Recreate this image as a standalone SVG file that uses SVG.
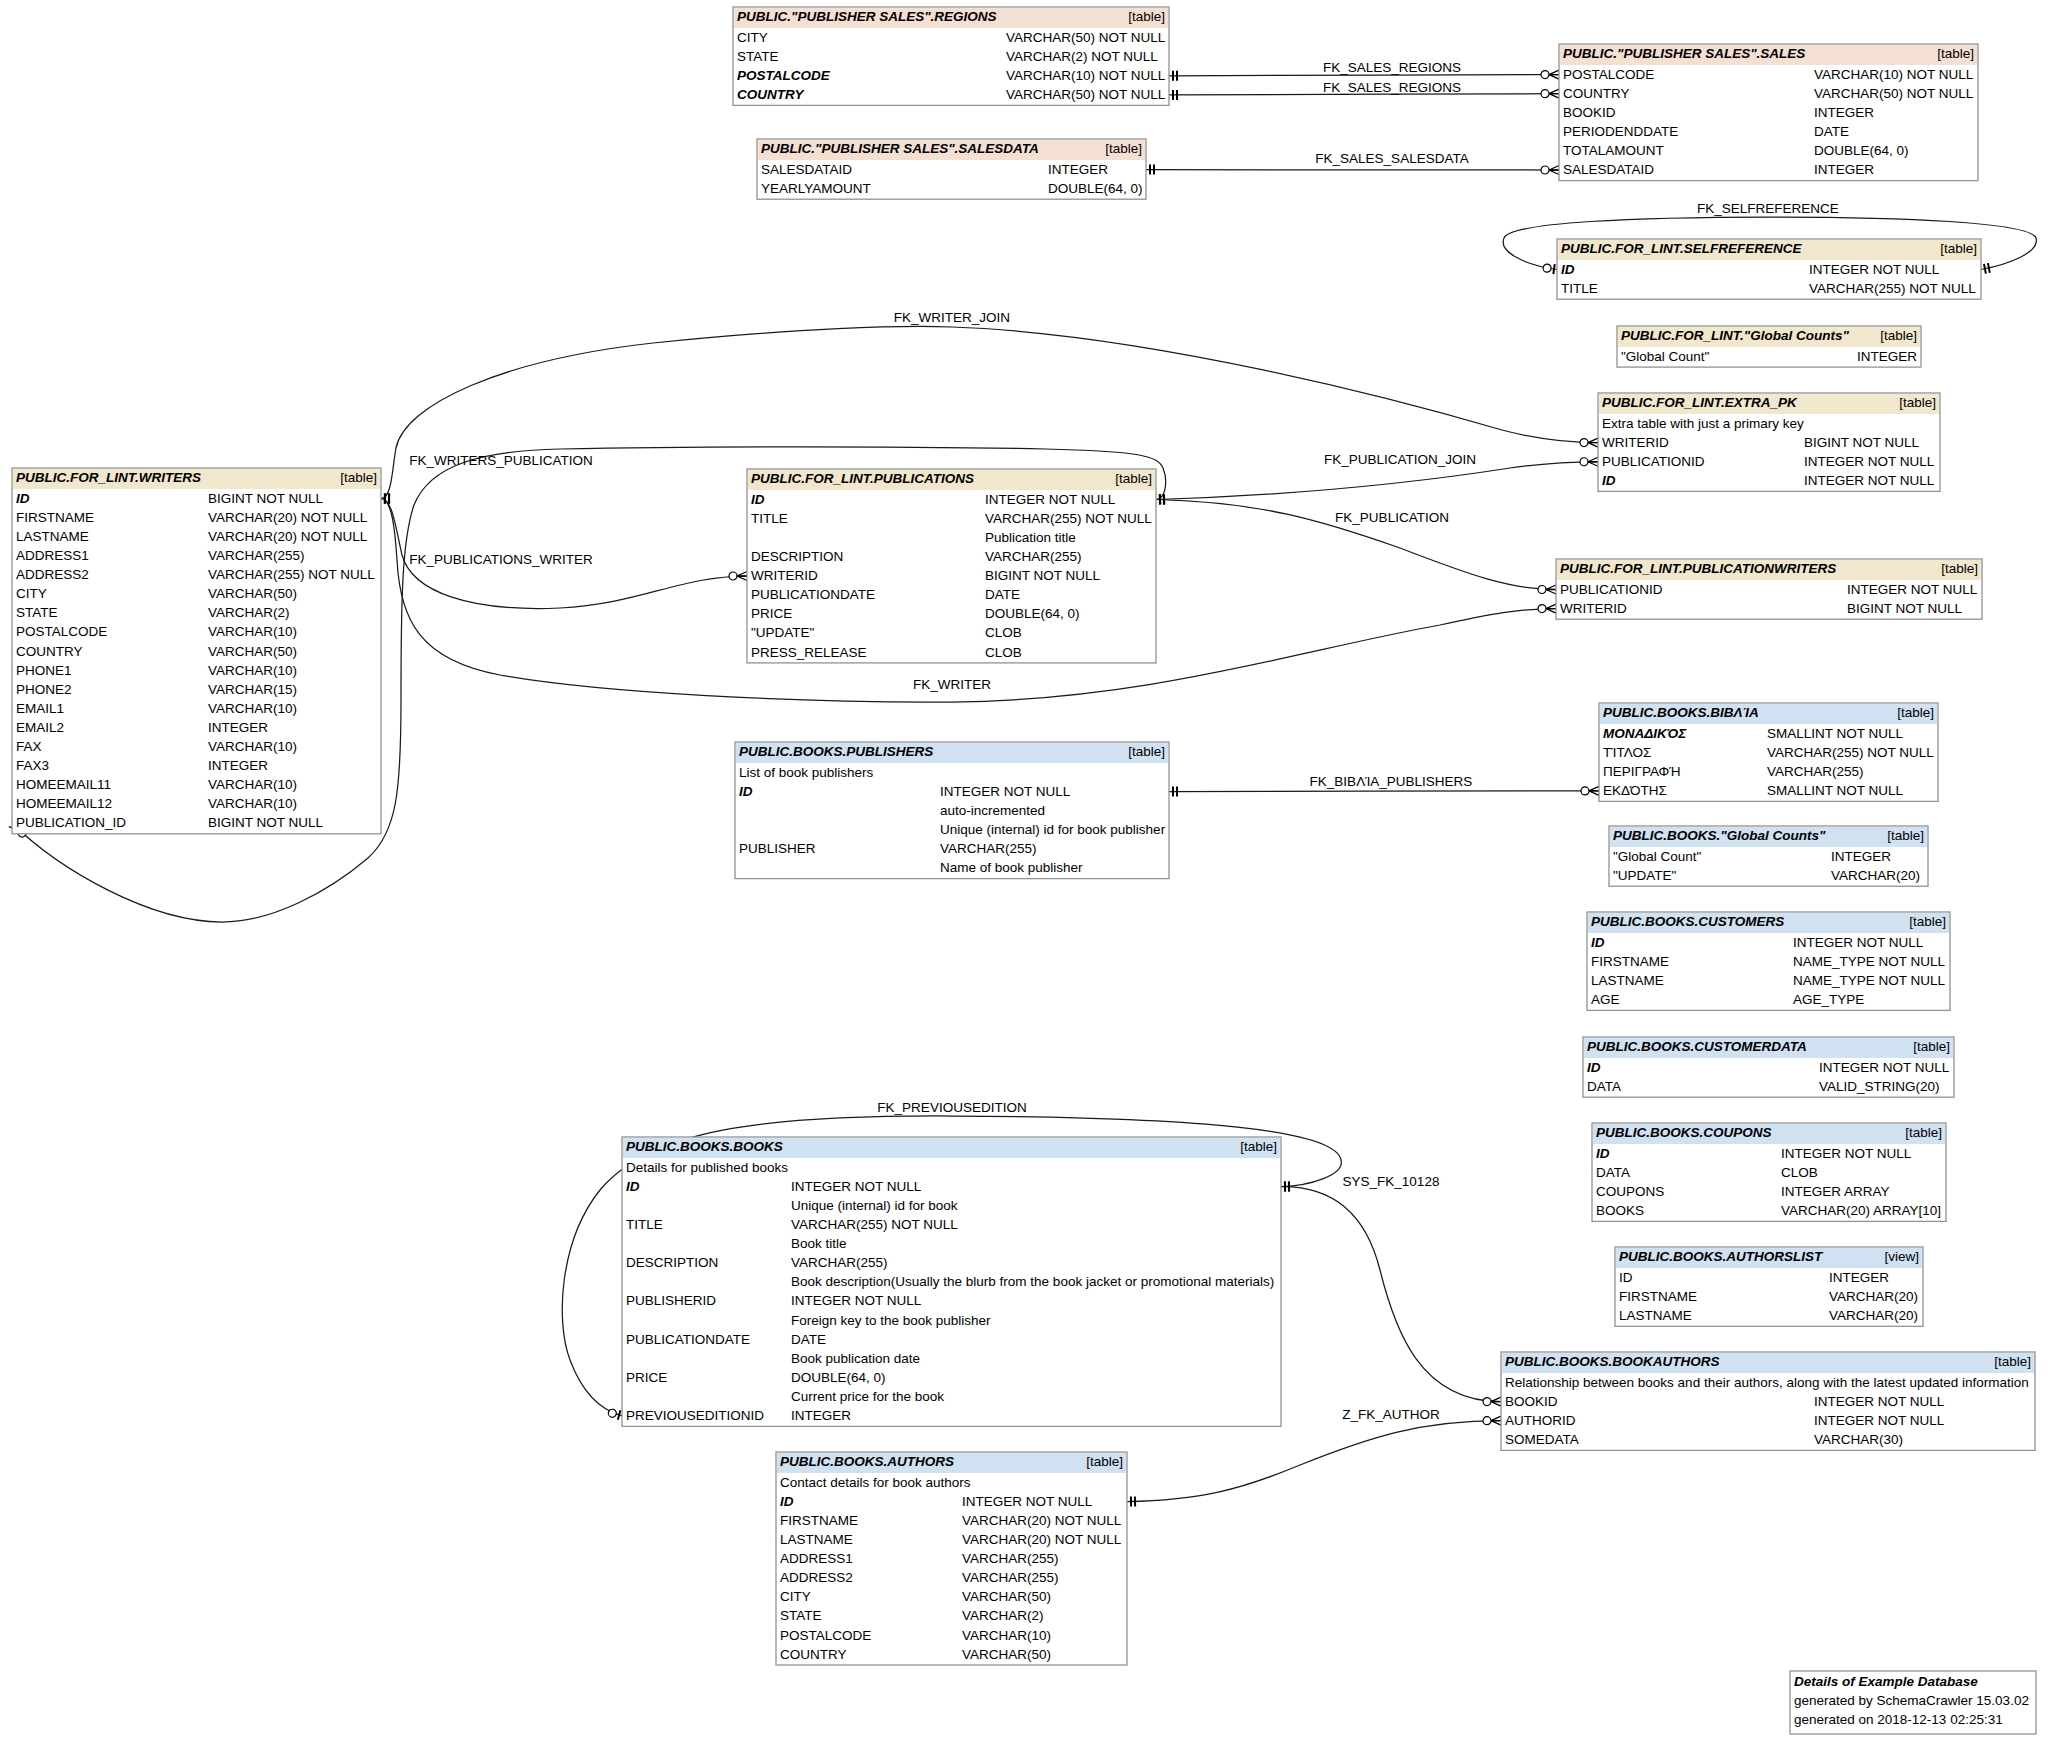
<svg xmlns="http://www.w3.org/2000/svg" width="2048" height="1741" viewBox="0 0 2048 1741">
<style>
text{font-family:"Liberation Sans",Arial,Helvetica,sans-serif;font-size:13.5px;fill:#000}
.h{font-weight:bold;font-style:italic}
.r{text-anchor:end}
.m{text-anchor:middle}
.box{fill:#fff;stroke:#929292;stroke-width:1.3}
.hl{fill:#F0E7CC}
.hp{fill:#F4DFD3}
.hb{fill:#D0E1F1}
.e{fill:none;stroke:#1a1a1a;stroke-width:1.25}
.one{marker-start:url(#tee)}
.many{marker-end:url(#crow)}
.zo{marker-end:url(#zeroone)}
</style>
<defs>
<marker id="crow" markerUnits="userSpaceOnUse" markerWidth="30" markerHeight="20" viewBox="-22 -10 30 20" refX="0" refY="0" orient="auto" overflow="visible">
<path d="M-10,0 L0,-4.5 M-10,0 L0,0 M-10,0 L0,4.5" fill="none" stroke="#000" stroke-width="1.3"/>
<circle cx="-14" cy="0" r="4" fill="#fff" stroke="#000" stroke-width="1.2"/>
</marker>
<marker id="tee" markerUnits="userSpaceOnUse" markerWidth="20" markerHeight="20" viewBox="-5 -10 20 20" refX="0" refY="0" orient="auto" overflow="visible">
<path d="M4,-5 V5 M8,-5 V5" fill="none" stroke="#000" stroke-width="2"/>
</marker>
<marker id="zeroone" markerUnits="userSpaceOnUse" markerWidth="30" markerHeight="20" viewBox="-22 -10 30 20" refX="0" refY="0" orient="auto" overflow="visible">
<path d="M-3,-5 V5" fill="none" stroke="#000" stroke-width="2"/>
<circle cx="-10" cy="0" r="4" fill="#fff" stroke="#000" stroke-width="1.2"/>
</marker>
</defs>
<rect width="2048" height="1741" fill="#fff"/>

<g id="connectors">
<path class="e one many" d="M1169,75.8 C1350,75.6 1400,74.6 1559,74.6"/>
<text class="m" x="1392" y="72">FK_SALES_REGIONS</text>
<path class="e one many" d="M1169,94.9 C1350,94.7 1400,93.7 1559,93.7"/>
<text class="m" x="1392" y="91.5">FK_SALES_REGIONS</text>
<path class="e one many" d="M1146,169.6 C1350,169.8 1400,170 1559,170"/>
<text class="m" x="1392" y="163">FK_SALES_SALESDATA</text>
<path class="e one zo" d="M1981,269.5 C2010,264 2040,252 2036,238 C2030,222 1900,217 1770,217 C1640,217 1510,222 1504,238 C1498,252 1525,265 1557,269.5"/>
<text class="m" x="1768" y="213">FK_SELFREFERENCE</text>
<path class="e one many" d="M381,498.5 C392,498 392,470 396,448 C405,405 500,360 653,343 C800,328 900,325 952,327 C1150,334 1400,400 1502,430 C1540,440 1570,442.6 1598,442.6"/>
<text class="m" x="952" y="322">FK_WRITER_JOIN</text>
<path class="e one many" d="M1156,499.5 C1300,495 1420,482 1510,468 C1545,463 1570,461.75 1598,461.75"/>
<text class="m" x="1400" y="464">FK_PUBLICATION_JOIN</text>
<path class="e one many" d="M1156,499.5 C1260,502 1320,520 1400,548 C1470,575 1510,589.5 1556,589.5"/>
<text class="m" x="1392" y="522">FK_PUBLICATION</text>
<path class="e one many" d="M381,498.5 C392,499 395,530 397,560 C400,620 420,660 500,675 C600,693 800,703 952,702 C1150,700 1300,650 1440,625 C1490,614 1520,608.6 1556,608.6"/>
<text class="m" x="952" y="689">FK_WRITER</text>
<path class="e one many" d="M1156,499.5 C1166,499 1168,480 1163,468 C1158,456 1140,451 1045,449 C900,446 700,446 560,449 C480,451 430,465 414,505 C402,540 401,600 401,700 C401,790 397,832 368,858 C328,892 272,922 222,922 C150,922 60,870 12,823.3"/>
<text class="m" x="501" y="464.5">FK_WRITERS_PUBLICATION</text>
<path class="e one many" d="M381,498.5 C393,499 396,530 402,555 C412,592 470,612 560,608 C640,604 680,576 747,576"/>
<text class="m" x="501" y="564">FK_PUBLICATIONS_WRITER</text>
<path class="e one many" d="M1169,791.6 C1350,791.4 1400,790.9 1599,790.9"/>
<text class="m" x="1391" y="786">FK_ΒΙΒΛΊΑ_PUBLISHERS</text>
<path class="e one zo" d="M1281,1186.6 C1310,1186 1345,1175 1341,1160 C1336,1130 1200,1117 952,1116 C760,1115 650,1130 600,1190 C560,1240 555,1320 570,1360 C582,1392 600,1410 622,1415.8"/>
<text class="m" x="952" y="1111.5">FK_PREVIOUSEDITION</text>
<path class="e one many" d="M1281,1186.6 C1330,1186 1365,1210 1380,1270 C1395,1330 1420,1401.6 1501,1401.6"/>
<text class="m" x="1391" y="1186">SYS_FK_10128</text>
<path class="e one many" d="M1127,1501.6 C1200,1500 1240,1490 1300,1465 C1370,1437 1420,1420.7 1501,1420.7"/>
<text class="m" x="1391" y="1419">Z_FK_AUTHOR</text>
</g>

<g id="regions">
<rect class="box" x="733" y="7" width="436" height="98.4"/>
<rect class="hp" x="734" y="8" width="434" height="20"/>
<text class="h" x="737" y="21">PUBLIC."PUBLISHER SALES".REGIONS</text>
<text class="r" x="1165" y="21">[table]</text>
<text x="737" y="41.7">CITY</text><text x="1006" y="41.7">VARCHAR(50) NOT NULL</text>
<text x="737" y="60.8">STATE</text><text x="1006" y="60.8">VARCHAR(2) NOT NULL</text>
<text class="h" x="737" y="79.9">POSTALCODE</text><text x="1006" y="79.9">VARCHAR(10) NOT NULL</text>
<text class="h" x="737" y="99">COUNTRY</text><text x="1006" y="99">VARCHAR(50) NOT NULL</text>
</g>

<g id="sales">
<rect class="box" x="1559" y="44" width="419" height="136.6"/>
<rect class="hp" x="1560" y="45" width="417" height="20"/>
<text class="h" x="1563" y="58">PUBLIC."PUBLISHER SALES".SALES</text>
<text class="r" x="1974" y="58">[table]</text>
<text x="1563" y="78.7">POSTALCODE</text><text x="1814" y="78.7">VARCHAR(10) NOT NULL</text>
<text x="1563" y="97.8">COUNTRY</text><text x="1814" y="97.8">VARCHAR(50) NOT NULL</text>
<text x="1563" y="116.9">BOOKID</text><text x="1814" y="116.9">INTEGER</text>
<text x="1563" y="136">PERIODENDDATE</text><text x="1814" y="136">DATE</text>
<text x="1563" y="155.1">TOTALAMOUNT</text><text x="1814" y="155.1">DOUBLE(64, 0)</text>
<text x="1563" y="174.2">SALESDATAID</text><text x="1814" y="174.2">INTEGER</text>
</g>

<g id="salesdata">
<rect class="box" x="757" y="139" width="389" height="60.2"/>
<rect class="hp" x="758" y="140" width="387" height="20"/>
<text class="h" x="761" y="153">PUBLIC."PUBLISHER SALES".SALESDATA</text>
<text class="r" x="1142" y="153">[table]</text>
<text x="761" y="173.7">SALESDATAID</text><text x="1048" y="173.7">INTEGER</text>
<text x="761" y="192.8">YEARLYAMOUNT</text><text x="1048" y="192.8">DOUBLE(64, 0)</text>
</g>

<g id="selfreference">
<rect class="box" x="1557" y="239" width="424" height="60.2"/>
<rect class="hl" x="1558" y="240" width="422" height="20"/>
<text class="h" x="1561" y="253">PUBLIC.FOR_LINT.SELFREFERENCE</text>
<text class="r" x="1977" y="253">[table]</text>
<text class="h" x="1561" y="273.7">ID</text><text x="1809" y="273.7">INTEGER NOT NULL</text>
<text x="1561" y="292.8">TITLE</text><text x="1809" y="292.8">VARCHAR(255) NOT NULL</text>
</g>

<g id="forlint_globalcounts">
<rect class="box" x="1617" y="326" width="304" height="41.1"/>
<rect class="hl" x="1618" y="327" width="302" height="20"/>
<text class="h" x="1621" y="340">PUBLIC.FOR_LINT."Global Counts"</text>
<text class="r" x="1917" y="340">[table]</text>
<text x="1621" y="360.7">"Global Count"</text><text x="1857" y="360.7">INTEGER</text>
</g>

<g id="extra_pk">
<rect class="box" x="1598" y="393" width="342" height="98.4"/>
<rect class="hl" x="1599" y="394" width="340" height="20"/>
<text class="h" x="1602" y="407">PUBLIC.FOR_LINT.EXTRA_PK</text>
<text class="r" x="1936" y="407">[table]</text>
<text x="1602" y="427.7">Extra table with just a primary key</text>
<text x="1602" y="446.8">WRITERID</text><text x="1804" y="446.8">BIGINT NOT NULL</text>
<text x="1602" y="465.9">PUBLICATIONID</text><text x="1804" y="465.9">INTEGER NOT NULL</text>
<text class="h" x="1602" y="485">ID</text><text x="1804" y="485">INTEGER NOT NULL</text>
</g>

<g id="publicationwriters">
<rect class="box" x="1556" y="559" width="426" height="60.2"/>
<rect class="hl" x="1557" y="560" width="424" height="20"/>
<text class="h" x="1560" y="573">PUBLIC.FOR_LINT.PUBLICATIONWRITERS</text>
<text class="r" x="1978" y="573">[table]</text>
<text x="1560" y="593.7">PUBLICATIONID</text><text x="1847" y="593.7">INTEGER NOT NULL</text>
<text x="1560" y="612.8">WRITERID</text><text x="1847" y="612.8">BIGINT NOT NULL</text>
</g>

<g id="writers">
<rect class="box" x="12" y="468" width="369" height="365.8"/>
<rect class="hl" x="13" y="469" width="367" height="20"/>
<text class="h" x="16" y="482">PUBLIC.FOR_LINT.WRITERS</text>
<text class="r" x="377" y="482">[table]</text>
<text class="h" x="16" y="502.7">ID</text><text x="208" y="502.7">BIGINT NOT NULL</text>
<text x="16" y="521.8">FIRSTNAME</text><text x="208" y="521.8">VARCHAR(20) NOT NULL</text>
<text x="16" y="540.9">LASTNAME</text><text x="208" y="540.9">VARCHAR(20) NOT NULL</text>
<text x="16" y="560">ADDRESS1</text><text x="208" y="560">VARCHAR(255)</text>
<text x="16" y="579.1">ADDRESS2</text><text x="208" y="579.1">VARCHAR(255) NOT NULL</text>
<text x="16" y="598.2">CITY</text><text x="208" y="598.2">VARCHAR(50)</text>
<text x="16" y="617.3">STATE</text><text x="208" y="617.3">VARCHAR(2)</text>
<text x="16" y="636.4">POSTALCODE</text><text x="208" y="636.4">VARCHAR(10)</text>
<text x="16" y="655.5">COUNTRY</text><text x="208" y="655.5">VARCHAR(50)</text>
<text x="16" y="674.6">PHONE1</text><text x="208" y="674.6">VARCHAR(10)</text>
<text x="16" y="693.7">PHONE2</text><text x="208" y="693.7">VARCHAR(15)</text>
<text x="16" y="712.8">EMAIL1</text><text x="208" y="712.8">VARCHAR(10)</text>
<text x="16" y="731.9">EMAIL2</text><text x="208" y="731.9">INTEGER</text>
<text x="16" y="751">FAX</text><text x="208" y="751">VARCHAR(10)</text>
<text x="16" y="770.1">FAX3</text><text x="208" y="770.1">INTEGER</text>
<text x="16" y="789.2">HOMEEMAIL11</text><text x="208" y="789.2">VARCHAR(10)</text>
<text x="16" y="808.3">HOMEEMAIL12</text><text x="208" y="808.3">VARCHAR(10)</text>
<text x="16" y="827.4">PUBLICATION_ID</text><text x="208" y="827.4">BIGINT NOT NULL</text>
</g>

<g id="publications">
<rect class="box" x="747" y="469" width="409" height="193.9"/>
<rect class="hl" x="748" y="470" width="407" height="20"/>
<text class="h" x="751" y="483">PUBLIC.FOR_LINT.PUBLICATIONS</text>
<text class="r" x="1152" y="483">[table]</text>
<text class="h" x="751" y="503.7">ID</text><text x="985" y="503.7">INTEGER NOT NULL</text>
<text x="751" y="522.8">TITLE</text><text x="985" y="522.8">VARCHAR(255) NOT NULL</text>
<text x="985" y="541.9">Publication title</text>
<text x="751" y="561">DESCRIPTION</text><text x="985" y="561">VARCHAR(255)</text>
<text x="751" y="580.1">WRITERID</text><text x="985" y="580.1">BIGINT NOT NULL</text>
<text x="751" y="599.2">PUBLICATIONDATE</text><text x="985" y="599.2">DATE</text>
<text x="751" y="618.3">PRICE</text><text x="985" y="618.3">DOUBLE(64, 0)</text>
<text x="751" y="637.4">"UPDATE"</text><text x="985" y="637.4">CLOB</text>
<text x="751" y="656.5">PRESS_RELEASE</text><text x="985" y="656.5">CLOB</text>
</g>

<g id="publishers">
<rect class="box" x="735" y="742" width="434" height="136.6"/>
<rect class="hb" x="736" y="743" width="432" height="20"/>
<text class="h" x="739" y="756">PUBLIC.BOOKS.PUBLISHERS</text>
<text class="r" x="1165" y="756">[table]</text>
<text x="739" y="776.7">List of book publishers</text>
<text class="h" x="739" y="795.8">ID</text><text x="940" y="795.8">INTEGER NOT NULL</text>
<text x="940" y="814.9">auto-incremented</text>
<text x="940" y="834">Unique (internal) id for book publisher</text>
<text x="739" y="853.1">PUBLISHER</text><text x="940" y="853.1">VARCHAR(255)</text>
<text x="940" y="872.2">Name of book publisher</text>
</g>

<g id="biblia">
<rect class="box" x="1599" y="703" width="339" height="98.4"/>
<rect class="hb" x="1600" y="704" width="337" height="20"/>
<text class="h" x="1603" y="717">PUBLIC.BOOKS.ΒΙΒΛΊΑ</text>
<text class="r" x="1934" y="717">[table]</text>
<text class="h" x="1603" y="737.7">ΜΟΝΑΔΙΚΌΣ</text><text x="1767" y="737.7">SMALLINT NOT NULL</text>
<text x="1603" y="756.8">ΤΊΤΛΟΣ</text><text x="1767" y="756.8">VARCHAR(255) NOT NULL</text>
<text x="1603" y="775.9">ΠΕΡΙΓΡΑΦΉ</text><text x="1767" y="775.9">VARCHAR(255)</text>
<text x="1603" y="795">ΕΚΔΌΤΗΣ</text><text x="1767" y="795">SMALLINT NOT NULL</text>
</g>

<g id="books_globalcounts">
<rect class="box" x="1609" y="826" width="319" height="60.2"/>
<rect class="hb" x="1610" y="827" width="317" height="20"/>
<text class="h" x="1613" y="840">PUBLIC.BOOKS."Global Counts"</text>
<text class="r" x="1924" y="840">[table]</text>
<text x="1613" y="860.7">"Global Count"</text><text x="1831" y="860.7">INTEGER</text>
<text x="1613" y="879.8">"UPDATE"</text><text x="1831" y="879.8">VARCHAR(20)</text>
</g>

<g id="customers">
<rect class="box" x="1587" y="912" width="363" height="98.4"/>
<rect class="hb" x="1588" y="913" width="361" height="20"/>
<text class="h" x="1591" y="926">PUBLIC.BOOKS.CUSTOMERS</text>
<text class="r" x="1946" y="926">[table]</text>
<text class="h" x="1591" y="946.7">ID</text><text x="1793" y="946.7">INTEGER NOT NULL</text>
<text x="1591" y="965.8">FIRSTNAME</text><text x="1793" y="965.8">NAME_TYPE NOT NULL</text>
<text x="1591" y="984.9">LASTNAME</text><text x="1793" y="984.9">NAME_TYPE NOT NULL</text>
<text x="1591" y="1004">AGE</text><text x="1793" y="1004">AGE_TYPE</text>
</g>

<g id="customerdata">
<rect class="box" x="1583" y="1037" width="371" height="60.2"/>
<rect class="hb" x="1584" y="1038" width="369" height="20"/>
<text class="h" x="1587" y="1051">PUBLIC.BOOKS.CUSTOMERDATA</text>
<text class="r" x="1950" y="1051">[table]</text>
<text class="h" x="1587" y="1071.7">ID</text><text x="1819" y="1071.7">INTEGER NOT NULL</text>
<text x="1587" y="1090.8">DATA</text><text x="1819" y="1090.8">VALID_STRING(20)</text>
</g>

<g id="coupons">
<rect class="box" x="1592" y="1123" width="354" height="98.4"/>
<rect class="hb" x="1593" y="1124" width="352" height="20"/>
<text class="h" x="1596" y="1137">PUBLIC.BOOKS.COUPONS</text>
<text class="r" x="1942" y="1137">[table]</text>
<text class="h" x="1596" y="1157.7">ID</text><text x="1781" y="1157.7">INTEGER NOT NULL</text>
<text x="1596" y="1176.8">DATA</text><text x="1781" y="1176.8">CLOB</text>
<text x="1596" y="1195.9">COUPONS</text><text x="1781" y="1195.9">INTEGER ARRAY</text>
<text x="1596" y="1215">BOOKS</text><text x="1781" y="1215">VARCHAR(20) ARRAY[10]</text>
</g>

<g id="authorslist">
<rect class="box" x="1615" y="1247" width="308" height="79.3"/>
<rect class="hb" x="1616" y="1248" width="306" height="20"/>
<text class="h" x="1619" y="1261">PUBLIC.BOOKS.AUTHORSLIST</text>
<text class="r" x="1919" y="1261">[view]</text>
<text x="1619" y="1281.7">ID</text><text x="1829" y="1281.7">INTEGER</text>
<text x="1619" y="1300.8">FIRSTNAME</text><text x="1829" y="1300.8">VARCHAR(20)</text>
<text x="1619" y="1319.9">LASTNAME</text><text x="1829" y="1319.9">VARCHAR(20)</text>
</g>

<g id="books">
<rect class="box" x="622" y="1137" width="659" height="289.4"/>
<rect class="hb" x="623" y="1138" width="657" height="20"/>
<text class="h" x="626" y="1151">PUBLIC.BOOKS.BOOKS</text>
<text class="r" x="1277" y="1151">[table]</text>
<text x="626" y="1171.7">Details for published books</text>
<text class="h" x="626" y="1190.8">ID</text><text x="791" y="1190.8">INTEGER NOT NULL</text>
<text x="791" y="1209.9">Unique (internal) id for book</text>
<text x="626" y="1229">TITLE</text><text x="791" y="1229">VARCHAR(255) NOT NULL</text>
<text x="791" y="1248.1">Book title</text>
<text x="626" y="1267.2">DESCRIPTION</text><text x="791" y="1267.2">VARCHAR(255)</text>
<text x="791" y="1286.3">Book description(Usually the blurb from the book jacket or promotional materials)</text>
<text x="626" y="1305.4">PUBLISHERID</text><text x="791" y="1305.4">INTEGER NOT NULL</text>
<text x="791" y="1324.5">Foreign key to the book publisher</text>
<text x="626" y="1343.6">PUBLICATIONDATE</text><text x="791" y="1343.6">DATE</text>
<text x="791" y="1362.7">Book publication date</text>
<text x="626" y="1381.8">PRICE</text><text x="791" y="1381.8">DOUBLE(64, 0)</text>
<text x="791" y="1400.9">Current price for the book</text>
<text x="626" y="1420">PREVIOUSEDITIONID</text><text x="791" y="1420">INTEGER</text>
</g>

<g id="authors">
<rect class="box" x="776" y="1452" width="351" height="213"/>
<rect class="hb" x="777" y="1453" width="349" height="20"/>
<text class="h" x="780" y="1466">PUBLIC.BOOKS.AUTHORS</text>
<text class="r" x="1123" y="1466">[table]</text>
<text x="780" y="1486.7">Contact details for book authors</text>
<text class="h" x="780" y="1505.8">ID</text><text x="962" y="1505.8">INTEGER NOT NULL</text>
<text x="780" y="1524.9">FIRSTNAME</text><text x="962" y="1524.9">VARCHAR(20) NOT NULL</text>
<text x="780" y="1544">LASTNAME</text><text x="962" y="1544">VARCHAR(20) NOT NULL</text>
<text x="780" y="1563.1">ADDRESS1</text><text x="962" y="1563.1">VARCHAR(255)</text>
<text x="780" y="1582.2">ADDRESS2</text><text x="962" y="1582.2">VARCHAR(255)</text>
<text x="780" y="1601.3">CITY</text><text x="962" y="1601.3">VARCHAR(50)</text>
<text x="780" y="1620.4">STATE</text><text x="962" y="1620.4">VARCHAR(2)</text>
<text x="780" y="1639.5">POSTALCODE</text><text x="962" y="1639.5">VARCHAR(10)</text>
<text x="780" y="1658.6">COUNTRY</text><text x="962" y="1658.6">VARCHAR(50)</text>
</g>

<g id="bookauthors">
<rect class="box" x="1501" y="1352" width="534" height="98.4"/>
<rect class="hb" x="1502" y="1353" width="532" height="20"/>
<text class="h" x="1505" y="1366">PUBLIC.BOOKS.BOOKAUTHORS</text>
<text class="r" x="2031" y="1366">[table]</text>
<text x="1505" y="1386.7">Relationship between books and their authors, along with the latest updated information</text>
<text x="1505" y="1405.8">BOOKID</text><text x="1814" y="1405.8">INTEGER NOT NULL</text>
<text x="1505" y="1424.9">AUTHORID</text><text x="1814" y="1424.9">INTEGER NOT NULL</text>
<text x="1505" y="1444">SOMEDATA</text><text x="1814" y="1444">VARCHAR(30)</text>
</g>

<g id="legend">
<rect class="box" x="1790" y="1671" width="246" height="63"/>
<text class="h" x="1794" y="1686">Details of Example Database</text>
<text x="1794" y="1705">generated by SchemaCrawler 15.03.02</text>
<text x="1794" y="1724">generated on 2018-12-13 02:25:31</text>
</g>
</svg>
